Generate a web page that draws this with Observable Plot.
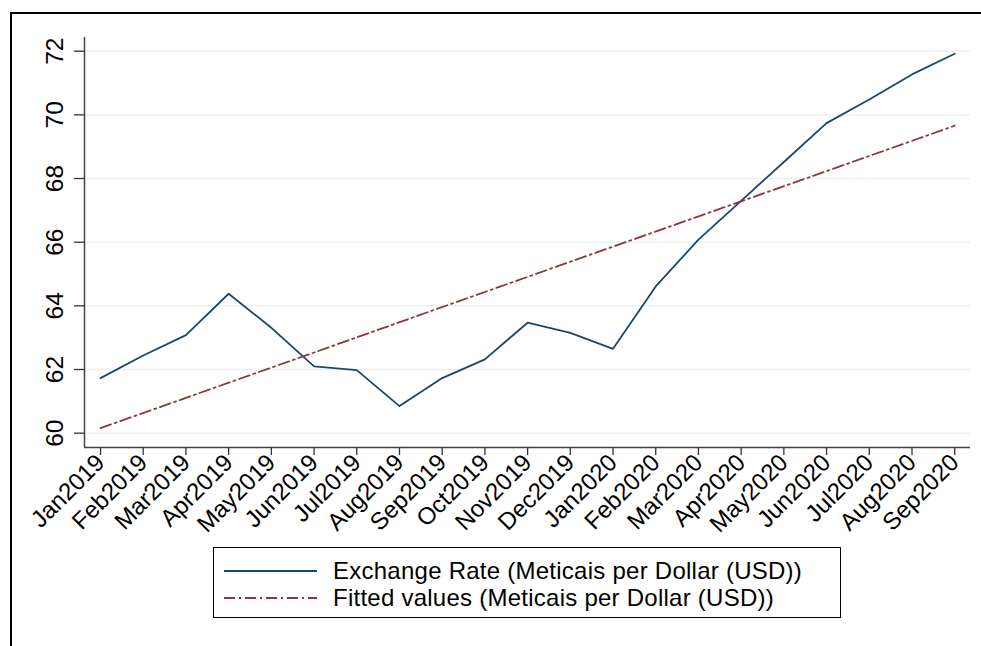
<!DOCTYPE html>
<html>
<head>
<meta charset="utf-8">
<script src="https://cdn.jsdelivr.net/npm/d3@7"></script>
<script src="https://cdn.jsdelivr.net/npm/@observablehq/plot@0.6"></script>
<style>
  html, body { margin: 0; padding: 0; background: #fff; width: 981px; height: 646px; overflow: hidden; }
  body { position: relative; font-family: "Liberation Sans", Arial, Helvetica, sans-serif; }
  #frame { position: absolute; left: 10px; top: 12px; width: 1200px; height: 900px; border: 2px solid #000; box-sizing: border-box; }
  #chart { position: absolute; left: 0; top: 0; }
  #legend { position: absolute; left: 213px; top: 547px; width: 628px; height: 71px; border: 1.5px solid #000; box-sizing: border-box; background: #fff; }
  .row { position: absolute; left: 0; height: 27px; display: flex; align-items: center; }
  .row svg { margin-left: 10px; }
  .row span { margin-left: 16px; font-size: 24px; letter-spacing: 0.25px; color: #000; white-space: nowrap; }
</style>
</head>
<body>
<div id="frame"></div>
<div id="chart"></div>
<div id="legend"></div>
<script>
const months = ["Jan2019","Feb2019","Mar2019","Apr2019","May2019","Jun2019","Jul2019","Aug2019","Sep2019","Oct2019","Nov2019","Dec2019","Jan2020","Feb2020","Mar2020","Apr2020","May2020","Jun2020","Jul2020","Aug2020","Sep2020"];
const rate = [61.73, 62.44, 63.08, 64.38, 63.31, 62.10, 61.98, 60.85, 61.73, 62.32, 63.47, 63.15, 62.65, 64.61, 66.08, 67.30, 68.52, 69.74, 70.48, 71.27, 71.92];
const yTicks = [60, 62, 64, 66, 68, 70, 72];
const legendLabels = ["Exchange Rate (Meticais per Dollar (USD))", "Fitted values (Meticais per Dollar (USD))"];
const colors = ["#1a476f", "#90353b"];
const dash = "11,4,2,4";

const data = months.map((m, i) => ({i, month: m, rate: rate[i]}));
const xDomain = [-0.375, 20.37];
const yDomain = [59.55, 72.43];

const chart = Plot.plot({
  width: 981,
  height: 535,
  marginLeft: 84,
  marginRight: 11,
  marginTop: 37,
  marginBottom: 88,
  style: {fontFamily: '"Liberation Sans", Arial, Helvetica, sans-serif', fontSize: "24px", color: "#000", background: "transparent", overflow: "visible"},
  x: {domain: xDomain, axis: null, label: null},
  y: {domain: yDomain, axis: null, label: null},
  marks: [
    Plot.gridY(yTicks, {stroke: "#eaf2f3", strokeOpacity: 1, strokeWidth: 1.5}),
    Plot.line(data, {x: "i", y: "rate", stroke: colors[0], strokeWidth: 1.8}),
    Plot.linearRegressionY(data, {x: "i", y: "rate", stroke: colors[1], strokeWidth: 1.8, strokeDasharray: dash, ci: 0}),
    Plot.ruleX([xDomain[0]], {stroke: "#444", strokeWidth: 1.5}),
    Plot.ruleY([yDomain[0]], {stroke: "#444", strokeWidth: 1.5}),
    Plot.axisY(yTicks, {anchor: "left", label: null, tickSize: 10, tickFormat: () => "", stroke: "#333", strokeWidth: 1.3}),
    Plot.text(yTicks, {y: d => d, text: d => String(d), frameAnchor: "left", textAnchor: "middle", lineAnchor: "middle", dx: -29, rotate: -90, fontSize: 24.5, fill: "#000"}),
    Plot.axisX(d3.range(months.length), {anchor: "bottom", label: null, tickSize: 8, tickPadding: 3, tickRotate: -45, tickFormat: i => months[i], fontSize: 24, stroke: "#333", strokeWidth: 1.3, fill: "#000"})
  ]
});
document.getElementById("chart").appendChild(chart);

const legend = document.getElementById("legend");
legendLabels.forEach((lab, k) => {
  const row = document.createElement("div");
  row.className = "row";
  row.style.top = (9 + k * 27) + "px";
  const svg = d3.create("svg").attr("width", 93).attr("height", 10);
  svg.append("line").attr("x1", 0).attr("x2", 93).attr("y1", 5).attr("y2", 5)
    .attr("stroke", colors[k]).attr("stroke-width", 1.8)
    .attr("stroke-dasharray", k === 1 ? dash : null);
  row.appendChild(svg.node());
  const span = document.createElement("span");
  span.textContent = lab;
  row.appendChild(span);
  legend.appendChild(row);
});
</script>
</body>
</html>
